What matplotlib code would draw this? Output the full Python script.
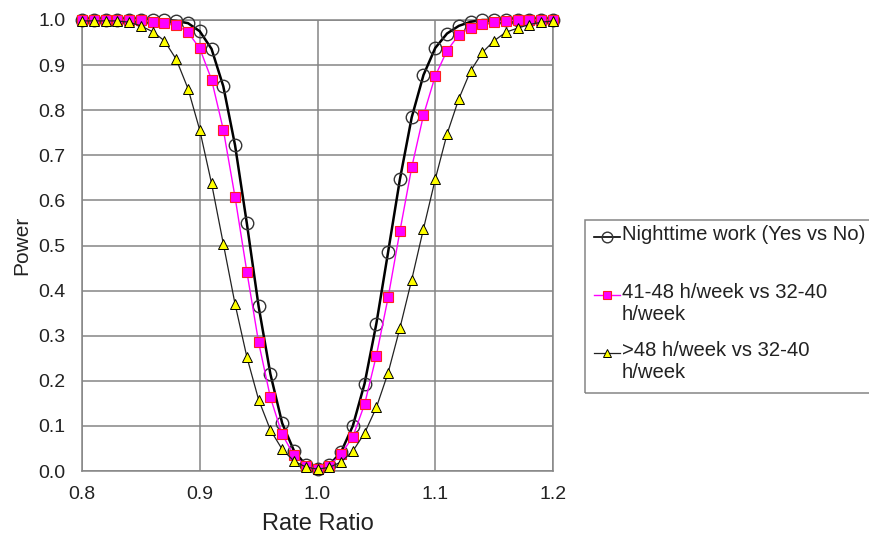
import matplotlib
matplotlib.use("Agg")
import matplotlib.pyplot as plt
from matplotlib.lines import Line2D
from matplotlib.patches import Rectangle

plt.rcParams['font.family'] = ['Liberation Sans', 'DejaVu Sans']

rate_ratio = [0.80, 0.81, 0.82, 0.83, 0.84, 0.85, 0.86, 0.87, 0.88, 0.89,
              0.90, 0.91, 0.92, 0.93, 0.94, 0.95, 0.96, 0.97, 0.98, 0.99,
              1.00, 1.01, 1.02, 1.03, 1.04, 1.05, 1.06, 1.07, 1.08, 1.09,
              1.10, 1.11, 1.12, 1.13, 1.14, 1.15, 1.16, 1.17, 1.18, 1.19, 1.20]

night_work = [1.0, 1.0, 1.0, 1.0, 1.0, 1.0, 1.0, 1.0, 0.998, 0.993,
              0.975, 0.936, 0.853, 0.722, 0.549, 0.365, 0.215, 0.106, 0.045, 0.013,
              0.005, 0.013, 0.042, 0.100, 0.194, 0.327, 0.486, 0.647, 0.784, 0.878,
              0.938, 0.970, 0.987, 0.996, 1.0, 1.0, 1.0, 1.0, 1.0, 1.0, 1.0]

hours_41_48 = [1.0, 1.0, 1.0, 1.0, 1.0, 1.0, 0.996, 0.993, 0.989, 0.973,
               0.937, 0.868, 0.757, 0.607, 0.442, 0.285, 0.163, 0.081, 0.035, 0.012,
               0.005, 0.012, 0.037, 0.076, 0.148, 0.256, 0.385, 0.532, 0.673, 0.789,
               0.876, 0.932, 0.967, 0.983, 0.991, 0.996, 0.998, 1.0, 1.0, 1.0, 1.0]

hours_gt48 = [0.998, 0.998, 0.998, 0.998, 0.995, 0.987, 0.974, 0.954, 0.913, 0.848,
              0.756, 0.638, 0.504, 0.370, 0.253, 0.158, 0.091, 0.048, 0.022, 0.009,
              0.004, 0.008, 0.020, 0.044, 0.084, 0.141, 0.218, 0.317, 0.424, 0.537,
              0.647, 0.747, 0.825, 0.887, 0.928, 0.954, 0.973, 0.982, 0.990, 0.995, 0.998]

labels = ["Nighttime work (Yes vs No)",
          "41-48 h/week vs 32-40\nh/week",
          ">48 h/week vs 32-40\nh/week"]

x_ticks = [0.8, 0.9, 1.0, 1.1, 1.2]
y_ticks = [0.0, 0.1, 0.2, 0.3, 0.4, 0.5, 0.6, 0.7, 0.8, 0.9, 1.0]

W, H = 870, 535
fig = plt.figure(figsize=(W / 100, H / 100), dpi=100)
ax = fig.add_axes([82 / W, 1 - 471 / H, (553 - 82) / W, (471 - 20) / H])

styles = [
    dict(color='black', lw=1.8, marker='o', ms=9, mfc='none', mec='#333333', mew=1.0),
    dict(color='#FF00FF', lw=1.0, marker='s', ms=7.5, mfc='#FF00FF', mec='#FF2020', mew=0.8),
    dict(color='#222222', lw=0.9, marker='^', ms=7, mfc='#FFFF00', mec='black', mew=0.7),
]
series = [night_work, hours_41_48, hours_gt48]
for i, (ys, st) in enumerate(zip(series, styles)):
    ax.plot(rate_ratio, ys, clip_on=False, zorder=3 + i, **st)

ax.set_xlim(0.8, 1.2)
ax.set_ylim(0.0, 1.0)
ax.set_xticks(x_ticks)
ax.set_yticks(y_ticks)
ax.set_xticklabels([f"{v:.1f}" for v in x_ticks])
ax.set_yticklabels([f"{v:.1f}" for v in y_ticks])
ax.tick_params(length=0, labelsize=14, labelcolor='#222222')
ax.tick_params(axis='y', pad=12)
ax.tick_params(axis='x', pad=11)
ax.grid(True, color='#858585', lw=1.1)
ax.set_axisbelow(True)
for s in ax.spines.values():
    s.set_color('#858585')
    s.set_linewidth(1.1)
ax.set_xlabel("Rate Ratio", fontsize=17, color='#222222', labelpad=7)
ax.set_ylabel("Power", fontsize=15, color='#222222', labelpad=5)

# legend (drawn manually to keep the handle aligned with the first text line)
fig.add_artist(Rectangle((585 / W, 1 - 393 / H), 0.4, (393 - 220) / H,
                         transform=fig.transFigure, fill=False,
                         edgecolor='#858585', lw=1.1))
hy = [237, 295, 353]
for y, st, lab in zip(hy, styles, labels):
    yy = 1 - y / H
    kw = dict(st)
    fig.add_artist(Line2D([594 / W, 620 / W], [yy, yy], transform=fig.transFigure,
                          color=kw['color'], lw=min(kw['lw'], 1.2)))
    fig.add_artist(Line2D([607 / W], [yy], transform=fig.transFigure, ls='none',
                          marker=kw['marker'], ms=kw['ms'] * 0.85, mfc=kw['mfc'],
                          mec=kw['mec'], mew=kw['mew']))
    fig.text(622 / W, yy + 12 / H, lab, fontsize=14.6, color='#222222',
             va='top', ha='left', linespacing=1.17,
             transform=fig.transFigure)

fig.savefig("out.png", dpi=100)
